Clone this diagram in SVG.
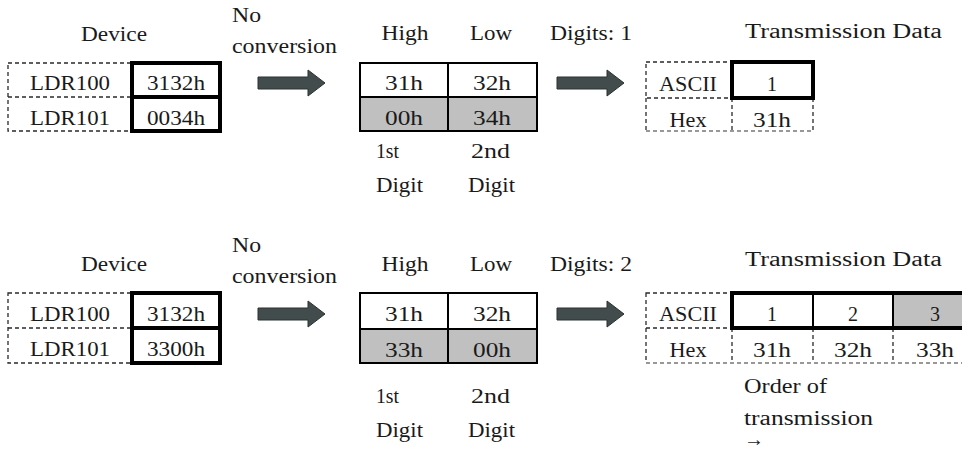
<svg xmlns="http://www.w3.org/2000/svg" width="962" height="451" viewBox="0 0 962 451">
  <style>
    .t { font-family: "Liberation Serif", "Times New Roman", serif; font-size: 20px; fill: #1a1a1a; }
    .c { text-anchor: middle; }
    .dash { fill: none; stroke: #2a2a2a; stroke-width: 1.3; stroke-dasharray: 4 3; }
    .dashlight { fill: none; stroke: #777; stroke-width: 1.3; stroke-dasharray: 4 3; }
    .thick { fill: none; stroke: #000; stroke-width: 4; }
    .grid { fill: none; stroke: #000; stroke-width: 2; }
    .shade { fill: #c0c0c0; }
    .blk { fill: #434c4c; stroke: #2b3131; stroke-width: 1; }
  </style>
  <defs>
    <path id="blockArrow" d="M0,7 H50 V0 L67,13 L50,26 V19 H0 Z"/>
  </defs>
  <rect width="962" height="451" fill="#fff"/>

  <!-- Case 1: digits = 1 -->
  <g id="device-1">
    <text class="t c" x="114" y="41" textLength="66" lengthAdjust="spacingAndGlyphs">Device</text>
    <rect class="dash" x="8" y="63" width="124" height="68"/>
    <line class="dash" x1="8" y1="97" x2="132" y2="97"/>
    <rect class="thick" x="132" y="63" width="88" height="68"/>
    <line class="thick" x1="132" y1="97" x2="220" y2="97"/>
    <text class="t c" x="70" y="90" textLength="80" lengthAdjust="spacingAndGlyphs">LDR100</text>
    <text class="t c" x="176" y="90" textLength="58" lengthAdjust="spacingAndGlyphs">3132h</text>
    <text class="t c" x="70" y="125" textLength="80" lengthAdjust="spacingAndGlyphs">LDR101</text>
    <text class="t c" x="176" y="125" textLength="58" lengthAdjust="spacingAndGlyphs">0034h</text>
  </g>

  <g id="label-noconv-1">
    <text class="t" x="232" y="22" textLength="29" lengthAdjust="spacingAndGlyphs">No</text>
    <text class="t" x="232" y="53" textLength="105" lengthAdjust="spacingAndGlyphs">conversion</text>
  </g>

  <g id="split-1">
    <text class="t c" x="405" y="40" textLength="47" lengthAdjust="spacingAndGlyphs">High</text>
    <text class="t c" x="491" y="40" textLength="42" lengthAdjust="spacingAndGlyphs">Low</text>
    <rect class="shade" x="360" y="97" width="177" height="34"/>
    <rect class="grid" x="360" y="63" width="177" height="68"/>
    <line class="grid" x1="448" y1="63" x2="448" y2="131"/>
    <line class="grid" x1="360" y1="97" x2="537" y2="97"/>
    <text class="t c" x="404" y="90" textLength="38" lengthAdjust="spacingAndGlyphs">31h</text>
    <text class="t c" x="492" y="90" textLength="38" lengthAdjust="spacingAndGlyphs">32h</text>
    <text class="t c" x="404" y="125" textLength="38" lengthAdjust="spacingAndGlyphs">00h</text>
    <text class="t c" x="492" y="125" textLength="38" lengthAdjust="spacingAndGlyphs">34h</text>
    <text class="t" x="376" y="158" textLength="23" lengthAdjust="spacingAndGlyphs">1st</text>
    <text class="t" x="376" y="192" textLength="47" lengthAdjust="spacingAndGlyphs">Digit</text>
    <text class="t" x="471" y="158" textLength="39" lengthAdjust="spacingAndGlyphs">2nd</text>
    <text class="t" x="468" y="192" textLength="47" lengthAdjust="spacingAndGlyphs">Digit</text>
  </g>

  <g id="label-digits-1">
    <text class="t" x="550" y="40" textLength="82" lengthAdjust="spacingAndGlyphs">Digits: 1</text>
  </g>

  <g id="transmit-1">
    <text class="t" x="745" y="38" textLength="197" lengthAdjust="spacingAndGlyphs">Transmission Data</text>
    <rect class="dash" x="646" y="62" width="86" height="36"/>
    <line class="dash" x1="646" y1="98" x2="646" y2="131"/>
    <line class="dash" x1="732" y1="98" x2="732" y2="131"/>
    <line class="dash" x1="813" y1="98" x2="813" y2="131"/>
    <line class="dashlight" x1="646" y1="131" x2="813" y2="131"/>
    <rect class="thick" x="732" y="62" width="81" height="36"/>
    <text class="t c" x="688" y="91" textLength="58" lengthAdjust="spacingAndGlyphs">ASCII</text>
    <text class="t c" x="772" y="91">1</text>
    <text class="t c" x="688" y="127" textLength="37" lengthAdjust="spacingAndGlyphs">Hex</text>
    <text class="t c" x="772" y="127" textLength="38" lengthAdjust="spacingAndGlyphs">31h</text>
  </g>

  <!-- Case 2: digits = 2 -->
  <g id="device-2">
    <text class="t c" x="114" y="271" textLength="66" lengthAdjust="spacingAndGlyphs">Device</text>
    <rect class="dash" x="8" y="293" width="124" height="70"/>
    <line class="dash" x1="8" y1="328" x2="132" y2="328"/>
    <rect class="thick" x="132" y="293" width="88" height="70"/>
    <line class="thick" x1="132" y1="328" x2="220" y2="328"/>
    <text class="t c" x="70" y="321" textLength="80" lengthAdjust="spacingAndGlyphs">LDR100</text>
    <text class="t c" x="176" y="321" textLength="58" lengthAdjust="spacingAndGlyphs">3132h</text>
    <text class="t c" x="70" y="356" textLength="80" lengthAdjust="spacingAndGlyphs">LDR101</text>
    <text class="t c" x="176" y="356" textLength="58" lengthAdjust="spacingAndGlyphs">3300h</text>
  </g>

  <g id="label-noconv-2">
    <text class="t" x="232" y="252" textLength="29" lengthAdjust="spacingAndGlyphs">No</text>
    <text class="t" x="232" y="283" textLength="105" lengthAdjust="spacingAndGlyphs">conversion</text>
  </g>

  <g id="split-2">
    <text class="t c" x="405" y="271" textLength="47" lengthAdjust="spacingAndGlyphs">High</text>
    <text class="t c" x="491" y="271" textLength="42" lengthAdjust="spacingAndGlyphs">Low</text>
    <rect class="shade" x="360" y="329" width="177" height="34"/>
    <rect class="grid" x="360" y="293" width="177" height="70"/>
    <line class="grid" x1="448" y1="293" x2="448" y2="363"/>
    <line class="grid" x1="360" y1="329" x2="537" y2="329"/>
    <text class="t c" x="404" y="321" textLength="38" lengthAdjust="spacingAndGlyphs">31h</text>
    <text class="t c" x="492" y="321" textLength="38" lengthAdjust="spacingAndGlyphs">32h</text>
    <text class="t c" x="404" y="357" textLength="38" lengthAdjust="spacingAndGlyphs">33h</text>
    <text class="t c" x="492" y="357" textLength="38" lengthAdjust="spacingAndGlyphs">00h</text>
    <text class="t" x="376" y="403" textLength="23" lengthAdjust="spacingAndGlyphs">1st</text>
    <text class="t" x="376" y="437" textLength="47" lengthAdjust="spacingAndGlyphs">Digit</text>
    <text class="t" x="471" y="403" textLength="39" lengthAdjust="spacingAndGlyphs">2nd</text>
    <text class="t" x="468" y="437" textLength="47" lengthAdjust="spacingAndGlyphs">Digit</text>
  </g>

  <g id="label-digits-2">
    <text class="t" x="550" y="271" textLength="82" lengthAdjust="spacingAndGlyphs">Digits: 2</text>
  </g>

  <g id="transmit-2">
    <text class="t" x="745" y="266" textLength="197" lengthAdjust="spacingAndGlyphs">Transmission Data</text>
    <rect class="shade" x="893" y="293" width="85" height="35"/>
    <rect class="dash" x="646" y="293" width="86" height="35"/>
    <line class="dash" x1="646" y1="328" x2="646" y2="363"/>
    <line class="dash" x1="732" y1="328" x2="732" y2="363"/>
    <line class="dash" x1="813" y1="328" x2="813" y2="363"/>
    <line class="dash" x1="893" y1="328" x2="893" y2="363"/>
    <line class="dashlight" x1="646" y1="363" x2="962" y2="363"/>
    <rect class="thick" x="732" y="293" width="246" height="35"/>
    <line class="grid" x1="813" y1="293" x2="813" y2="328"/>
    <line class="grid" x1="893" y1="293" x2="893" y2="328"/>
    <text class="t c" x="688" y="321" textLength="58" lengthAdjust="spacingAndGlyphs">ASCII</text>
    <text class="t c" x="772" y="321">1</text>
    <text class="t c" x="853" y="321">2</text>
    <text class="t c" x="935" y="321">3</text>
    <text class="t c" x="688" y="357" textLength="37" lengthAdjust="spacingAndGlyphs">Hex</text>
    <text class="t c" x="772" y="357" textLength="38" lengthAdjust="spacingAndGlyphs">31h</text>
    <text class="t c" x="853" y="357" textLength="38" lengthAdjust="spacingAndGlyphs">32h</text>
    <text class="t c" x="935" y="357" textLength="38" lengthAdjust="spacingAndGlyphs">33h</text>
    <text class="t" x="744" y="393" textLength="83" lengthAdjust="spacingAndGlyphs">Order of</text>
    <text class="t" x="744" y="425" textLength="129" lengthAdjust="spacingAndGlyphs">transmission</text>
    <text class="t" x="744" y="446">→</text>
  </g>

  <!-- Block arrows between stages -->
  <g id="connectors">
    <use href="#blockArrow" class="blk" x="258" y="70"/>
    <use href="#blockArrow" class="blk" x="557" y="70"/>
    <use href="#blockArrow" class="blk" x="258" y="301"/>
    <use href="#blockArrow" class="blk" x="557" y="301"/>
  </g>
</svg>
